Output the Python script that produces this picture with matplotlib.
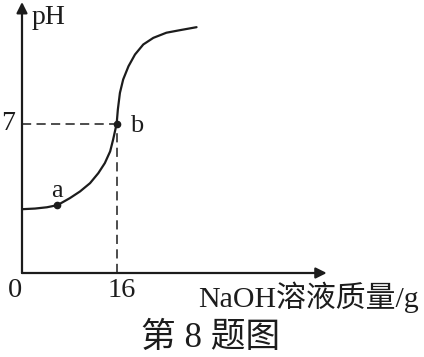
import matplotlib.pyplot as plt

# curve: NaOH mass (g) vs pH
mass = [0, 2.2, 4.2, 6.0, 8.1, 9.8, 11.5, 12.9, 14.0, 14.9, 15.4, 16.0, 16.2, 16.55,
        17.1, 18.0, 19.1, 20.5, 22.2, 24.4, 26.7, 29.5]
ph = [2.99, 3.02, 3.08, 3.18, 3.51, 3.82, 4.21, 4.68, 5.15, 5.70, 6.25, 7.0, 7.66, 8.44,
      9.07, 9.69, 10.24, 10.71, 11.02, 11.26, 11.38, 11.52]

point_names = ["a", "b"]
point_mass = [6.0, 16.0]
point_ph = [3.18, 7.0]

x_ticks = [0, 16]
y_ticks = [7]

xlabel = "NaOH溶液质量/g"
caption = "第 8 题图"

ink = "#1c1c1c"
serif = ["Liberation Serif", "Noto Sans CJK SC"]

fig = plt.figure(figsize=(4.24, 3.57), dpi=100)
ax = fig.add_axes([22 / 424, 84 / 357, 304.7 / 424, 271 / 357])
ax.set_xlim(0, 51.5)
ax.set_ylim(0, 12.7)
ax.axis("off")

# axes with arrows
arrow = dict(arrowstyle="-|>", color=ink, lw=1.6, mutation_scale=16, shrinkA=0, shrinkB=0)
ax.annotate("", xy=(51.5, 0), xytext=(0, 0), arrowprops=arrow, annotation_clip=False)
ax.annotate("", xy=(0, 12.7), xytext=(0, 0), arrowprops=arrow, annotation_clip=False)

ax.plot(mass, ph, color=ink, lw=1.6, solid_capstyle="round", solid_joinstyle="round")

# guide lines to point b
bx, by = point_mass[1], point_ph[1]
ax.plot([0, bx], [by, by], color=ink, lw=1.1, dashes=(6, 3.5))
ax.plot([bx, bx], [0, by], color=ink, lw=1.1, dashes=(6, 3.5))

ax.plot(point_mass, point_ph, "o", color=ink, ms=4.5)

ax.text(5.9, 3.57, point_names[0], fontsize=19, family=serif, ha="center", va="baseline", color=ink)
ax.text(19.4, 6.62, point_names[1], fontsize=19, family=serif, ha="center", va="baseline", color=ink)

ax.text(1.7, 11.65, "pH", fontsize=20, family=serif, ha="left", va="baseline", color=ink)
ax.text(-2.3, y_ticks[0], str(y_ticks[0]), fontsize=20, family=serif, ha="center", va="center", color=ink)

ax.text(x_ticks[0] - 1.2, -1.13, str(x_ticks[0]), fontsize=20.5, family=serif, ha="center", va="baseline", color=ink)
ax.text(x_ticks[1] + 0.9, -1.13, str(x_ticks[1]), fontsize=20.5, family=serif, ha="center", va="baseline", color=ink)

ax.text(29.7, -1.58, xlabel, fontsize=21.5, family=serif, ha="left", va="baseline", color=ink)

fig.text(211 / 424, 1 - 338 / 357, caption, fontsize=25, family=serif, ha="center", va="center", color=ink)

fig.savefig("out.png", dpi=100)
